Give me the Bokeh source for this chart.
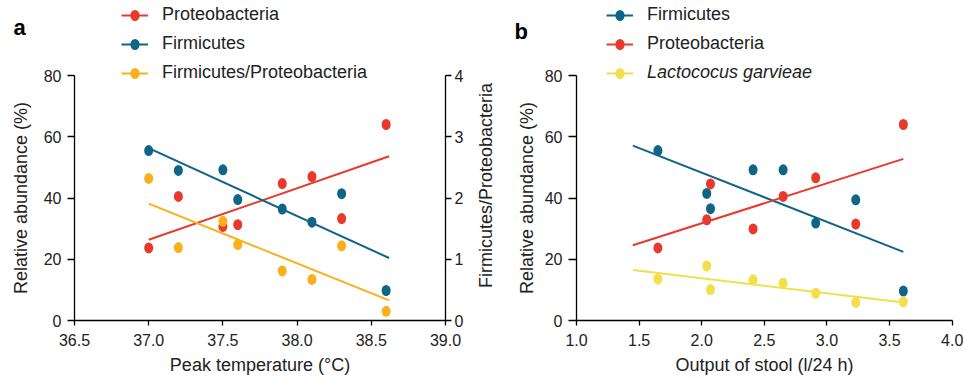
import math
import numpy as np
from bokeh.plotting import figure
from bokeh.models import (Range1d, LinearAxis, FixedTicker, PrintfTickFormatter,
                          Legend, LegendItem, Label)
from bokeh.layouts import row
from bokeh.embed import file_html
from bokeh.resources import INLINE

# ---------------- data: panel a ----------------
peak_temp = [37.0, 37.2, 37.5, 37.6, 37.9, 38.1, 38.3, 38.6]
proteo_a = [23.7, 40.5, 30.7, 31.3, 44.7, 47.0, 33.3, 64.0]
firm_a = [55.5, 49.0, 49.2, 39.5, 36.4, 32.1, 41.4, 9.8]
ratio_a = [2.32, 1.19, 1.62, 1.24, 0.81, 0.67, 1.22, 0.15]
fit_x_a = [37.0, 38.62]

# ---------------- data: panel b ----------------
stool = [1.65, 2.04, 2.07, 2.41, 2.65, 2.91, 3.23, 3.61]
firm_b = [55.5, 41.5, 36.5, 49.2, 49.2, 31.8, 39.4, 9.6]
proteo_b = [23.7, 32.9, 44.6, 29.9, 40.5, 46.6, 31.5, 64.0]
lacto_b = [13.5, 17.8, 10.1, 13.3, 12.2, 8.9, 5.9, 6.1]
fit_x_b = [1.45, 3.61]

# ---------------- ticks / axis bounds ----------------
x_ticks_a = [36.5, 37.0, 37.5, 38.0, 38.5, 39.0]
x_ticks_b = [1.0, 1.5, 2.0, 2.5, 3.0, 3.5, 4.0]
y_ticks = [0, 20, 40, 60, 80]
ratio_ticks = [0, 1, 2, 3, 4]
x_bounds_a = (36.5, 39.0)
x_bounds_b = (1.0, 4.0)
y_bounds = (0, 80)
ratio_bounds = (0, 4)

RED = "#E8392B"
BLUE = "#0F6586"
ORANGE = "#FAB01B"
YELLOW = "#F1E04C"
FONT = "Liberation Sans"
TXT = "#222222"

H = 381          # figure height (px)
WA, WB = 496, 468
Y_PIX = (320, 75)  # pixel rows of y bounds (0 and 80)


def pix_range(v0, p0, v1, p1, size, flip=False):
    """Range1d such that value v0 sits at pixel p0 and v1 at pixel p1."""
    s = (v1 - v0) / (p1 - p0)
    a = v0 + (0 - p0) * s
    b = v0 + (size - p0) * s
    return Range1d(b, a) if flip else Range1d(a, b)


def fit(xs, ys, ends):
    k, b = np.polyfit(xs, ys, 1)
    e = np.array(ends, dtype=float)
    return e, k * e + b


def style_axis(ax, tick_out, label_standoff, axis_standoff):
    ax.axis_line_color = "black"
    ax.axis_line_width = 1.3
    ax.major_tick_line_color = "black"
    ax.major_tick_line_width = 1.3
    ax.major_tick_in = 0
    ax.major_tick_out = tick_out
    ax.minor_tick_line_color = None
    ax.major_label_text_font = FONT
    ax.major_label_text_font_size = "16px"
    ax.major_label_text_color = TXT
    ax.major_label_standoff = label_standoff
    ax.axis_label_text_font = FONT
    ax.axis_label_text_font_size = "18px"
    ax.axis_label_text_font_style = "normal"
    ax.axis_label_text_color = TXT
    ax.axis_label_standoff = axis_standoff


def base_fig(width, xr, yr):
    p = figure(width=width, height=H, x_range=xr, y_range=yr,
               output_backend="svg", toolbar_location=None, min_border=0)
    p.xgrid.visible = False
    p.ygrid.visible = False
    p.outline_line_color = None
    p.background_fill_color = "white"
    p.border_fill_color = "white"
    return p


def dots(p, x, y, color, **kw):
    return p.ellipse(x=x, y=y, width=9, height=11, width_units="screen",
                     height_units="screen", fill_color=color, line_color=None, **kw)


def make_legend(items, x, y, italic=False):
    return Legend(items=items, location=(x, y), orientation="vertical",
                  padding=0, margin=0, spacing=8, glyph_width=27, glyph_height=14,
                  label_height=20, label_standoff=14,
                  label_text_font=FONT, label_text_font_size="18px",
                  label_text_color=TXT,
                  label_text_font_style="italic" if italic else "normal",
                  border_line_alpha=0, background_fill_alpha=0)


def text_label(text, x, y, size, **kw):
    return Label(x=x, y=y, x_units="screen", y_units="screen", text=text,
                 text_font=FONT, text_font_size=size, **kw)


# ================= panel a =================
pa = base_fig(WA, pix_range(36.5, 74, 39.0, 445, WA),
              pix_range(0, Y_PIX[0], 80, Y_PIX[1], H, flip=True))
pa.extra_y_ranges = {"ratio": pix_range(0, Y_PIX[0], 4, Y_PIX[1], H, flip=True)}

lx, ly = fit(peak_temp, proteo_a, fit_x_a)
l_pa = pa.line(lx, ly, line_color=RED, line_width=2)
lx, ly = fit(peak_temp, firm_a, fit_x_a)
l_fa = pa.line(lx, ly, line_color=BLUE, line_width=2)
lx, ly = fit(peak_temp, ratio_a, fit_x_a)
l_ra = pa.line(lx, ly, line_color=ORANGE, line_width=2, y_range_name="ratio")

d_pa = dots(pa, peak_temp, proteo_a, RED)
d_fa = dots(pa, peak_temp, firm_a, BLUE)
d_ra = dots(pa, peak_temp, ratio_a, ORANGE, y_range_name="ratio")

xa = pa.xaxis[0]
xa.ticker = FixedTicker(ticks=x_ticks_a)
xa.formatter = PrintfTickFormatter(format="%.1f")
xa.axis_label = "Peak temperature (°C)"
xa.fixed_location = y_bounds[0]
xa.bounds = x_bounds_a
style_axis(xa, 5, 8, 6)

ya = pa.yaxis[0]
ya.ticker = FixedTicker(ticks=y_ticks)
ya.axis_label = "Relative abundance (%)"
ya.fixed_location = x_bounds_a[0]
ya.bounds = y_bounds
style_axis(ya, 7, 6, 10)

ax_r = LinearAxis(y_range_name="ratio", ticker=FixedTicker(ticks=ratio_ticks),
                  fixed_location=x_bounds_a[1], bounds=ratio_bounds)
style_axis(ax_r, 6, 3, 6)
pa.add_layout(ax_r, "right")

pa.add_layout(text_label("Firmicutes/Proteobacteria", 485, H - 185, "18px",
                         angle=math.pi / 2, text_align="center",
                         text_baseline="middle", text_color=TXT))
pa.add_layout(text_label("a", 13, H - 27, "22px", text_font_style="bold",
                         text_color="black", text_baseline="alphabetic",
                         text_align="left"))

pa.add_layout(make_legend([
    LegendItem(label="Proteobacteria", renderers=[l_pa, d_pa]),
    LegendItem(label="Firmicutes", renderers=[l_fa, d_fa]),
    LegendItem(label="Firmicutes/Proteobacteria", renderers=[l_ra, d_ra]),
], 121, H - 83))

# ================= panel b =================
OB = WA  # horizontal offset of panel b on the page
pb = base_fig(WB, pix_range(1.0, 576 - OB, 4.0, 951.7 - OB, WB),
              pix_range(0, Y_PIX[0], 80, Y_PIX[1], H, flip=True))

lx, ly = fit(stool, firm_b, fit_x_b)
l_fb = pb.line(lx, ly, line_color=BLUE, line_width=2)
lx, ly = fit(stool, proteo_b, fit_x_b)
l_pb = pb.line(lx, ly, line_color=RED, line_width=2)
lx, ly = fit(stool, lacto_b, fit_x_b)
l_lb = pb.line(lx, ly, line_color=YELLOW, line_width=2)

d_fb = dots(pb, stool, firm_b, BLUE)
d_pb = dots(pb, stool, proteo_b, RED)
d_lb = dots(pb, stool, lacto_b, YELLOW)

xb = pb.xaxis[0]
xb.ticker = FixedTicker(ticks=x_ticks_b)
xb.formatter = PrintfTickFormatter(format="%.1f")
xb.axis_label = "Output of stool (l/24 h)"
xb.fixed_location = y_bounds[0]
xb.bounds = x_bounds_b
style_axis(xb, 5, 8, 6)

yb = pb.yaxis[0]
yb.ticker = FixedTicker(ticks=y_ticks)
yb.axis_label = "Relative abundance (%)"
yb.fixed_location = x_bounds_b[0]
yb.bounds = y_bounds
style_axis(yb, 8, 6, 5)

pb.add_layout(text_label("b", 514 - OB, H - 31, "22px", text_font_style="bold",
                         text_color="black", text_baseline="alphabetic",
                         text_align="left"))

pb.add_layout(make_legend([
    LegendItem(label="Firmicutes", renderers=[l_fb, d_fb]),
    LegendItem(label="Proteobacteria", renderers=[l_pb, d_pb]),
], 606 - OB, H - 54))
pb.add_layout(make_legend([
    LegendItem(label="Lactococus garvieae", renderers=[l_lb, d_lb]),
], 606 - OB, H - 83, italic=True))

layout = row(pa, pb)
open("out.html", "w").write(file_html(layout, INLINE))
